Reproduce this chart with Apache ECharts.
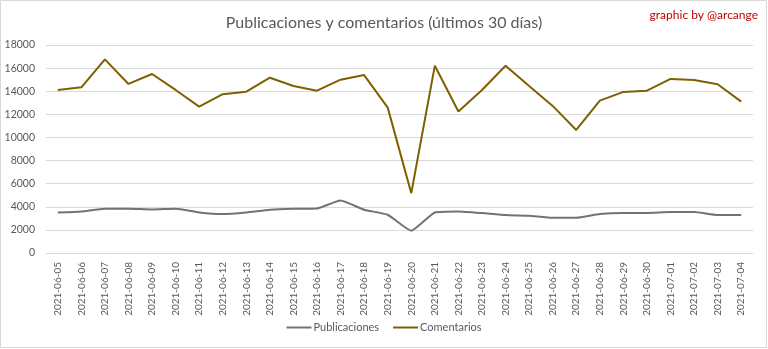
<!DOCTYPE html>
<html>
<head>
<meta charset="utf-8">
<script src="https://cdn.jsdelivr.net/npm/echarts@6/dist/echarts.min.js"></script>
<style>
  html, body { margin: 0; padding: 0; background: #fff; }
  #chart { width: 768px; height: 349px; }
</style>
</head>
<body>
<div id="chart"></div>
<script>
// Daily dates for the last 30 days
const dates = [
  '2021-06-05','2021-06-06','2021-06-07','2021-06-08','2021-06-09','2021-06-10',
  '2021-06-11','2021-06-12','2021-06-13','2021-06-14','2021-06-15','2021-06-16',
  '2021-06-17','2021-06-18','2021-06-19','2021-06-20','2021-06-21','2021-06-22',
  '2021-06-23','2021-06-24','2021-06-25','2021-06-26','2021-06-27','2021-06-28',
  '2021-06-29','2021-06-30','2021-07-01','2021-07-02','2021-07-03','2021-07-04'
];

// Posts per day
const publicaciones = [
  3510, 3600, 3830, 3830, 3770, 3830, 3510, 3370, 3510, 3740,
  3830, 3860, 4540, 3740, 3310, 1930, 3510, 3600, 3460, 3280,
  3220, 3050, 3050, 3370, 3460, 3460, 3540, 3540, 3280, 3280
];

// Comments per day
const comentarios = [
  14110, 14340, 16760, 14630, 15490, 14110, 12670, 13740, 13960, 15170,
  14450, 14050, 15000, 15400, 12580, 5180, 16210, 12240, 14110, 16210,
  14450, 12730, 10650, 13190, 13940, 14050, 15060, 14970, 14600, 13100
];

// Value axis ticks
const yMin = 0, yMax = 18000, yStep = 2000;

const font = 'Lato, "Open Sans", sans-serif';
const chart = echarts.init(document.getElementById('chart'));

chart.setOption({
  backgroundColor: '#ffffff',
  animation: false,
  title: {
    text: 'Publicaciones y comentarios (últimos 30 días)',
    left: 'center',
    top: 10,
    textStyle: { fontFamily: font, fontSize: 16, fontWeight: 'normal', color: '#595959' }
  },
  graphic: [
    {
      type: 'rect',
      shape: { x: 0.5, y: 0.5, width: 766, height: 347 },
      style: { fill: 'none', stroke: '#d9d9d9', lineWidth: 1 },
      silent: true
    },
    {
      type: 'text',
      right: 10,
      top: 9,
      style: { text: 'graphic by @arcange', fill: '#c00000', font: '12px ' + font }
    }
  ],
  legend: {
    bottom: 11,
    left: 'center',
    icon: 'rect',
    itemWidth: 25,
    itemHeight: 2,
    itemGap: 14,
    textStyle: { fontFamily: font, fontSize: 11, color: '#595959', padding: [0, 0, 0, -3] },
    data: ['Publicaciones', 'Comentarios']
  },
  grid: { left: 46, right: 15, top: 45, bottom: 96 },
  xAxis: {
    type: 'category',
    data: dates,
    boundaryGap: true,
    axisLine: { show: true, lineStyle: { color: '#d9d9d9', width: 1 } },
    axisTick: { show: false },
    axisLabel: {
      rotate: 90,
      interval: 0,
      margin: 9,
      fontFamily: font,
      fontSize: 10,
      color: '#595959'
    }
  },
  yAxis: {
    type: 'value',
    min: yMin,
    max: yMax,
    interval: yStep,
    axisLine: { show: false },
    axisTick: { show: false },
    splitLine: { lineStyle: { color: '#d9d9d9', width: 1 } },
    axisLabel: {
      margin: 11,
      fontFamily: font,
      fontSize: 10.5,
      color: '#595959',
      formatter: (v) => String(v)
    }
  },
  series: [
    {
      name: 'Publicaciones',
      type: 'line',
      data: publicaciones,
      smooth: 0.15,
      showSymbol: false,
      lineStyle: { color: '#767171', width: 2 },
      itemStyle: { color: '#767171' }
    },
    {
      name: 'Comentarios',
      type: 'line',
      data: comentarios,
      showSymbol: false,
      lineStyle: { color: '#7f6000', width: 2 },
      itemStyle: { color: '#7f6000' }
    }
  ]
});
</script>
</body>
</html>
